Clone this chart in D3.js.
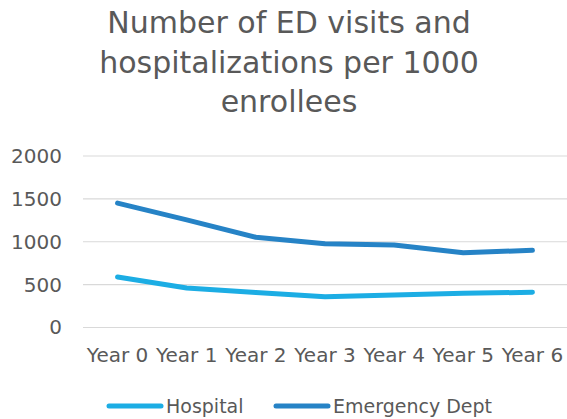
<!DOCTYPE html>
<html><head><meta charset="utf-8">
<script src="https://cdn.jsdelivr.net/npm/d3@7"></script>
<style>body{margin:0;background:#fff}svg{display:block}text{font-family:"DejaVu Sans", sans-serif;fill:#595959}</style>
</head><body><svg id="c" width="567" height="419"></svg>
<script>
const categories = ["Year 0","Year 1","Year 2","Year 3","Year 4","Year 5","Year 6"];
const hospital = [590, 460, 408, 360, 380, 400, 410];
const emergency = [1450, 1255, 1052, 978, 962, 872, 900];
const yTicks = [0, 500, 1000, 1500, 2000];
const seriesNames = ["Hospital", "Emergency Dept"];
const colors = ["#1CADE4", "#2683C6"];

(function(){
const svg = d3.select("#c");
const mLeft = 83, mRight = 567, mTop = 156, mBottom = 327.5;
const x = d3.scaleBand().domain(categories).range([mLeft, mRight]);
const y = d3.scaleLinear().domain([0, 2000]).range([mBottom, mTop]);

const title = ["Number of ED visits and", "hospitalizations per 1000", "enrollees"];
svg.append("g").selectAll("text").data(title).join("text")
  .attr("x", 289).attr("y", (d,i)=>33 + i*39.5)
  .attr("text-anchor","middle").style("font-size","30px").text(d=>d);

svg.append("g").selectAll("line").data(yTicks).join("line")
  .attr("x1", mLeft).attr("x2", mRight).attr("y1", d=>y(d)).attr("y2", d=>y(d))
  .attr("stroke","#d9d9d9").attr("stroke-width",1.2);

const yAxis = svg.append("g").attr("transform",`translate(${mLeft},0)`)
  .call(d3.axisLeft(y).tickValues(yTicks).tickFormat(d3.format("d")).tickSize(0).tickPadding(21));
yAxis.select(".domain").remove();
yAxis.selectAll("text").style("font-size","20px").attr("fill","#595959").style("font-family","'DejaVu Sans', sans-serif");

const xAxis = svg.append("g").attr("transform",`translate(0,${mBottom})`)
  .call(d3.axisBottom(x).tickSize(0).tickPadding(20));
xAxis.select(".domain").remove();
xAxis.selectAll("text").style("font-size","20px").attr("fill","#595959").style("font-family","'DejaVu Sans', sans-serif");

const line = d3.line().x((d,i)=>x(categories[i]) + x.bandwidth()/2).y(d=>y(d));
[hospital, emergency].forEach((s,k)=>{
  svg.append("path").datum(s).attr("d", line).attr("fill","none")
    .attr("stroke", colors[k]).attr("stroke-width",5).attr("stroke-linecap","round").attr("stroke-linejoin","round");
});

const legendX = [109, 276];
seriesNames.forEach((n,k)=>{
  const g = svg.append("g").attr("transform",`translate(${legendX[k]},406)`);
  g.append("line").attr("x1",0).attr("x2",52).attr("stroke",colors[k]).attr("stroke-width",5).attr("stroke-linecap","round");
  g.append("text").attr("x",57).attr("y",6.5).style("font-size","19px").text(n);
});
})();
</script></body></html>
